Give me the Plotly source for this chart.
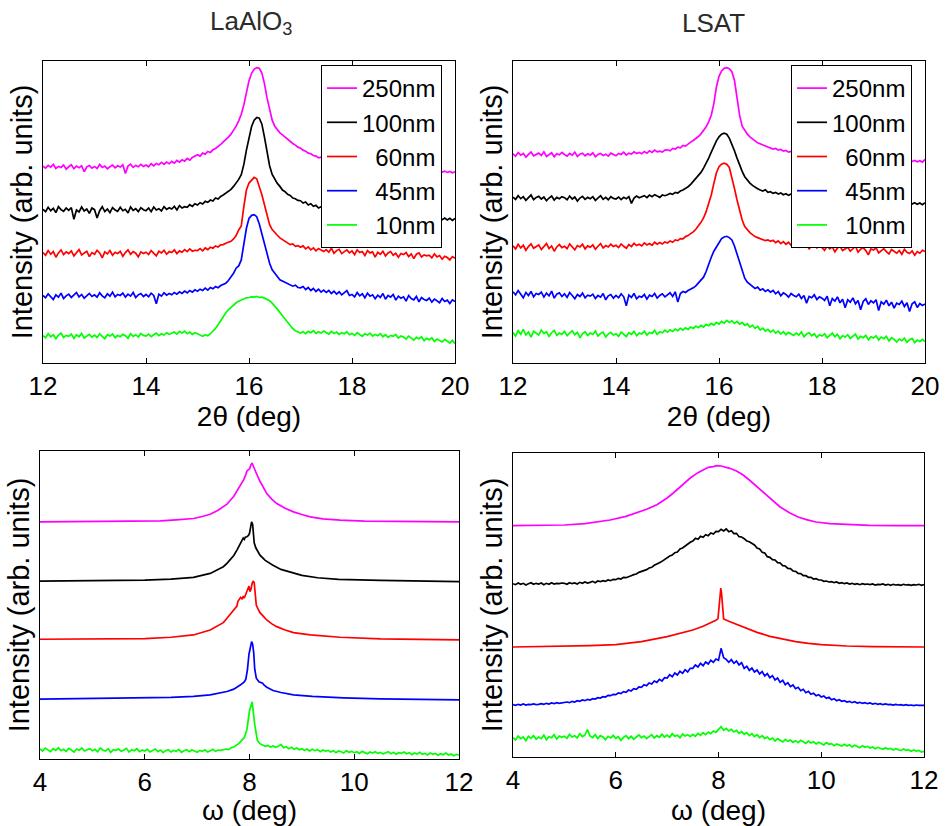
import plotly.graph_objects as go

W, H = 948, 826

# ---------------- data ----------------
# 2theta scan grid (deg) and omega scan grid (deg)
TT = [round(12 + 0.05 * i, 2) for i in range(161)]
OM = [round(4 + 0.05 * i, 2) for i in range(161)]

LABELS = ["250nm", "100nm", "\u00a0\u00a060nm", "\u00a0\u00a045nm", "\u00a0\u00a010nm"]
COLORS = ["#ff00ff", "#000000", "#ff0000", "#0000ff", "#00ff00"]

# ----- LaAlO3, 2theta scans (stacked, arb. units) -----
TL_250 = [592, 586, 594, 589, 597, 585, 591, 588, 595, 583,
          590, 596, 584, 592, 587, 593, 575, 590, 594, 586,
          591, 585, 597, 588, 592, 584, 590, 595, 587, 593,
          589, 596, 570, 592, 598, 588, 594, 590, 597, 591,
          595, 590, 599, 593, 600, 596, 603, 597, 604, 599,
          606, 601, 609, 604, 611, 607, 615, 610, 618, 622,
          626, 622, 631, 628, 636, 633, 641, 645, 650, 657,
          665, 671, 679, 688, 699, 712, 728, 748, 776, 814,
          849, 871, 883, 888, 886, 872, 840, 797, 759, 730,
          712, 701, 692, 686, 679, 673, 666, 660, 655, 649,
          646, 640, 637, 631, 629, 624, 622, 617, 619, 614,
          612, 609, 611, 606, 608, 603, 605, 601, 603, 599,
          600, 597, 599, 595, 597, 593, 596, 592, 594, 590,
          592, 589, 591, 587, 590, 586, 588, 584, 587, 583,
          585, 582, 584, 580, 583, 579, 582, 578, 581, 577,
          580, 576, 579, 575, 578, 574, 577, 573, 576, 572, 575]
TL_100 = [462, 455, 468, 458, 465, 452, 470, 461, 456, 466,
          459, 467, 432, 460, 454, 469, 457, 463, 450, 466,
          461, 436, 458, 470, 455, 463, 452, 467, 460, 456,
          468, 458, 462, 451, 469, 459, 464, 455, 467, 461,
          458, 466, 455, 469, 460, 464, 457, 470, 462, 467,
          463, 471, 460, 473, 466, 470, 468, 476, 471, 479,
          475, 482, 478, 486, 483, 490, 487, 496, 493, 501,
          505, 510, 516, 522, 531, 540, 552, 566, 597, 640,
          680, 711, 730, 738, 736, 718, 679, 630, 593, 567,
          551, 540, 531, 520, 515, 507, 504, 496, 494, 489,
          488, 481, 484, 475, 479, 471, 474, 466, 470, 463,
          466, 460, 463, 457, 461, 455, 458, 452, 456, 450,
          455, 449, 453, 447, 452, 446, 450, 444, 449, 443,
          448, 442, 447, 441, 446, 440, 445, 439, 444, 438,
          445, 439, 443, 437, 442, 436, 441, 435, 440, 434,
          439, 433, 438, 432, 437, 431, 436, 430, 435, 429, 435]
TL_60 = [332, 324, 338, 327, 335, 318, 331, 340, 326, 334,
         329, 337, 322, 333, 341, 325, 330, 336, 320, 332,
         327, 339, 331, 316, 334, 328, 338, 324, 333, 329,
         336, 321, 332, 340, 327, 335, 330, 319, 334, 329,
         333, 326, 338, 330, 322, 336, 331, 339, 327, 335,
         332, 340, 329, 337, 333, 341, 335, 343, 336, 339,
         338, 344, 337, 346, 341, 348, 345, 352, 349, 355,
         356, 360, 363, 366, 373, 383, 400, 412, 470, 520,
         541, 551, 558, 554, 531, 506, 476, 446, 416, 401,
         391, 384, 376, 371, 366, 361, 356, 358, 351, 353,
         348, 352, 343, 349, 340, 346, 337, 344, 339, 335,
         341, 333, 345, 330, 338, 342, 329, 336, 340, 331,
         337, 326, 340, 332, 335, 323, 338, 331, 334, 318,
         333, 327, 336, 322, 331, 335, 324, 330, 318, 329,
         326, 332, 320, 328, 314, 327, 331, 319, 325, 322,
         324, 316, 328, 319, 323, 312, 321, 317, 310, 320, 315]
TL_45 = [203, 196, 208, 199, 191, 205, 198, 210, 194, 202,
         207, 197, 204, 212, 199, 206, 195, 203, 209, 200,
         205, 198, 211, 202, 196, 208, 201, 213, 199, 206,
         203, 210, 198, 207, 201, 212, 197, 205, 209, 200,
         206, 199, 210, 203, 178, 207, 201, 211, 204, 209,
         205, 212, 207, 214, 209, 216, 211, 218, 213, 220,
         216, 222, 218, 225, 219, 227, 223, 230, 226, 233,
         236, 240, 248, 258, 270, 285, 292, 310, 356, 405,
         435, 444, 446, 440, 418, 388, 352, 326, 300, 280,
         268, 260, 250, 246, 242, 239, 236, 231, 234, 227,
         226, 230, 221, 227, 218, 224, 215, 222, 213, 219,
         212, 218, 209, 216, 207, 214, 205, 211, 218, 203,
         206, 199, 212, 202, 208, 196, 210, 201, 205, 193,
         204, 197, 209, 192, 203, 198, 206, 189, 201, 195,
         199, 186, 203, 194, 190, 200, 184, 197, 191, 188,
         195, 183, 192, 187, 181, 194, 185, 189, 179, 190, 185]
TL_10 = [82, 76, 88, 79, 85, 73, 84, 90, 77, 83,
         80, 87, 74, 85, 79, 89, 75, 82, 86, 78,
         84, 77, 88, 80, 73, 85, 81, 87, 76, 83,
         79, 86, 82, 74, 88, 80, 85, 78, 89, 83,
         81, 87, 79, 85, 90, 82, 88, 84, 91, 86,
         89, 93, 87, 95, 90, 96, 88, 93, 86, 91,
         88, 84, 80, 85, 82, 88, 95, 104, 115, 128,
         141, 151, 160, 168, 176, 181, 186, 190, 194, 196,
         197, 199, 198, 200, 197, 198, 195, 192, 187, 180,
         172, 162, 152, 142, 131, 120, 110, 103, 97, 93,
         90, 94, 88, 95, 91, 97, 89, 94, 90, 96,
         92, 87, 95, 89, 93, 86, 91, 88, 94, 85,
         89, 83, 91, 86, 80, 88, 84, 90, 81, 86,
         82, 88, 79, 85, 77, 83, 80, 86, 75, 81,
         78, 72, 81, 75, 69, 77, 73, 79, 67, 74,
         70, 76, 65, 72, 68, 63, 71, 66, 60, 68, 58]

# ----- LSAT, 2theta scans -----
TR_250 = [629, 622, 633, 625, 630, 619, 627, 634, 623, 628,
          631, 624, 635, 621, 628, 632, 620, 629, 626, 633,
          627, 622, 630, 625, 634, 621, 628, 631, 623, 629,
          625, 632, 620, 627, 630, 624, 628, 622, 631, 626,
          623, 630, 627, 634, 625, 631, 628, 635, 630, 633,
          629, 636, 631, 638, 633, 640, 635, 637, 634, 640,
          641, 638, 645, 643, 649, 647, 654, 652, 659, 664,
          669, 674, 681, 689, 699, 710, 725, 745, 780, 830,
          862, 878, 886, 888, 885, 876, 850, 798, 745, 712,
          698, 688, 680, 673, 668, 662, 659, 655, 652, 648,
          646, 643, 645, 640, 642, 637, 639, 634, 636, 632,
          633, 629, 631, 627, 629, 625, 627, 623, 625, 621,
          623, 619, 622, 618, 621, 617, 620, 616, 619, 615,
          618, 614, 617, 613, 616, 612, 615, 611, 614, 610,
          613, 609, 612, 608, 611, 607, 610, 606, 609, 605,
          612, 608, 611, 607, 610, 606, 609, 605, 608, 604, 612]
TR_100 = [499, 492, 503, 494, 500, 489, 497, 505, 491, 498,
          501, 493, 499, 488, 496, 502, 490, 498, 494, 500,
          497, 491, 502, 493, 499, 487, 496, 501, 492, 498,
          494, 500, 489, 497, 503, 492, 498, 491, 500, 495,
          493, 499, 491, 498, 494, 500, 480, 496, 502, 497,
          499, 503, 497, 505, 500, 506, 502, 498, 505, 503,
          506, 510, 507, 513, 511, 517, 520, 524, 530, 537,
          546, 554, 563, 573, 586, 600, 616, 634, 652, 668,
          680, 688, 691, 688, 676, 658, 638, 616, 595, 576,
          560, 550, 541, 534, 528, 524, 520, 517, 521, 513,
          515, 510, 513, 508, 511, 506, 509, 504, 508, 503,
          506, 501, 505, 500, 504, 499, 503, 498, 502, 497,
          500, 495, 499, 494, 498, 493, 497, 492, 496, 491,
          495, 490, 494, 489, 493, 488, 492, 487, 491, 486,
          490, 485, 489, 484, 488, 483, 487, 482, 486, 481,
          485, 480, 484, 479, 483, 478, 482, 477, 481, 476, 482]
TR_60 = [352, 343, 357, 346, 354, 339, 350, 358, 345, 351,
         355, 341, 350, 359, 344, 352, 336, 349, 356, 347,
         351, 344, 358, 348, 340, 353, 349, 357, 343, 352,
         348, 355, 342, 351, 359, 346, 353, 349, 357, 350,
         354, 347, 358, 351, 345, 356, 350, 360, 353, 357,
         352, 361, 355, 359, 354, 363, 357, 362, 358, 364,
         361, 367, 363, 370, 368, 374, 373, 380, 383, 389,
         394, 402, 411, 423, 436, 455, 480, 505, 540, 572,
         590, 598, 601, 598, 588, 560, 525, 490, 455, 430,
         410, 400, 392, 386, 380, 377, 374, 371, 368, 370,
         366, 369, 362, 367, 359, 365, 357, 363, 354, 361,
         355, 348, 359, 350, 356, 343, 352, 358, 346, 351,
         347, 339, 352, 343, 349, 334, 346, 351, 338, 344,
         348, 336, 345, 351, 333, 342, 347, 338, 325, 343,
         340, 346, 331, 339, 344, 335, 328, 341, 336, 330,
         338, 327, 342, 333, 329, 337, 324, 335, 330, 339, 335]
TR_45 = [214, 205, 218, 208, 196, 212, 203, 215, 199, 209,
         206, 213, 198, 210, 202, 216, 195, 207, 211, 200,
         208, 197, 212, 203, 193, 206, 200, 210, 196, 204,
         201, 207, 194, 203, 198, 209, 190, 202, 206, 195,
         203, 196, 208, 199, 172, 204, 197, 209, 193, 201,
         198, 206, 192, 204, 200, 209, 195, 203, 208, 199,
         205, 211, 200, 214, 183, 209, 215, 212, 218, 221,
         226, 232, 240, 248, 258, 275, 298, 318, 336, 350,
         364, 374, 379, 381, 377, 370, 352, 328, 300, 276,
         255, 243, 236, 230, 224, 228, 219, 223, 215, 220,
         213, 218, 208, 215, 202, 211, 206, 198, 209, 203,
         199, 207, 194, 203, 180, 200, 196, 205, 191, 199,
         195, 188, 201, 172, 194, 186, 199, 181, 192, 166,
         190, 183, 196, 178, 188, 160, 185, 193, 176, 187,
         181, 190, 158, 184, 177, 189, 172, 183, 165, 180,
         176, 186, 170, 181, 155, 178, 184, 167, 179, 173, 177]
TR_10 = [92, 81, 97, 86, 101, 84, 93, 78, 95, 88,
         84, 99, 89, 94, 80, 91, 98, 83, 90, 86,
         95, 82, 89, 97, 85, 92, 76, 88, 94, 83,
         90, 86, 96, 81, 89, 93, 78, 87, 92, 84,
         88, 80, 93, 85, 79, 91, 86, 95, 82, 90,
         87, 96, 84, 92, 89, 98, 86, 94, 91, 99,
         93, 100, 95, 102, 97, 104, 99, 106, 101, 108,
         104, 111, 106, 113, 108, 116, 112, 119, 114, 122,
         117, 125, 120, 128, 122, 127, 119, 125, 117, 122,
         113, 118, 108, 114, 104, 110, 99, 105, 96, 101,
         93, 99, 90, 96, 87, 94, 85, 92, 88, 83,
         90, 84, 93, 79, 87, 91, 82, 88, 77, 85,
         81, 88, 76, 84, 90, 79, 86, 73, 82, 78,
         85, 74, 81, 87, 72, 80, 76, 83, 70, 79,
         75, 82, 69, 78, 73, 80, 66, 76, 71, 63,
         72, 67, 75, 62, 70, 74, 61, 69, 65, 71, 64]

# ----- LaAlO3, omega scans -----
BL_250_X = [4.0, 5.0, 6.0, 6.3, 6.6, 6.93, 7.1, 7.25, 7.4, 7.57, 7.7, 7.76, 7.83, 7.89, 7.93, 7.95,
            7.98, 8.0, 8.03, 8.05, 8.08, 8.11, 8.15, 8.2, 8.27, 8.33, 8.42, 8.52, 8.68, 8.84, 9.0,
            9.16, 9.4, 9.73, 10.2, 11.0, 12.0]
BL_250_Y = [713, 714, 715, 716, 719, 723, 729, 736, 748, 766, 790, 805, 822, 840, 855, 865,
            870, 872, 885, 890, 878, 865, 852, 835, 815, 798, 782, 768, 754, 743, 735,
            728, 722, 718, 715, 714, 713]
BL_100_X = [4.0, 5.0, 6.0, 6.5, 6.93, 7.25, 7.5, 7.57, 7.7, 7.76, 7.82, 7.86, 7.88, 7.9, 7.92, 7.95,
            7.98, 8.0, 8.02, 8.04, 8.06, 8.075, 8.09, 8.12, 8.16, 8.2, 8.3, 8.44, 8.6, 8.8, 9.0,
            9.3, 9.7, 10.5, 12.0]
BL_100_Y = [535, 536, 538, 541, 546, 558, 578, 588, 612, 628, 645, 658, 664, 660, 667, 668,
            672, 678, 700, 713, 705, 680, 650, 635, 622, 613, 597, 583, 570, 560, 552,
            545, 540, 537, 533]
BL_60_X = [4.0, 5.0, 6.0, 6.5, 6.93, 7.25, 7.5, 7.57, 7.7, 7.76, 7.78, 7.8, 7.83, 7.86, 7.88, 7.9,
           7.93, 7.96, 7.99, 8.01, 8.03, 8.05, 8.07, 8.09, 8.11, 8.13, 8.16, 8.2, 8.27, 8.33, 8.42,
           8.52, 8.68, 8.84, 9.16, 9.73, 10.5, 12.0]
BL_60_Y = [360, 361, 362, 366, 373, 388, 410, 423, 450, 460, 474, 478, 486, 480, 490, 484,
           496, 508, 520, 503, 512, 528, 535, 530, 500, 462, 452, 440, 428, 418, 407,
           398, 388, 380, 373, 366, 361, 358]
BL_45_X = [4.0, 5.0, 6.0, 6.5, 6.93, 7.25, 7.57, 7.7, 7.83, 7.9, 7.93, 7.96, 7.99, 8.02, 8.04, 8.06,
           8.08, 8.1, 8.13, 8.18, 8.22, 8.25, 8.28, 8.33, 8.45, 8.6, 8.84, 9.2, 9.8, 10.5, 12.0]
BL_45_Y = [180, 182, 183, 185, 188, 193, 203, 210, 223, 232, 240, 268, 315, 340, 353, 345,
           320, 270, 243, 232, 230, 228, 222, 216, 206, 200, 193, 188, 184, 181, 178]
BL_10 = [30, 24, 33, 27, 22, 31, 26, 34, 25, 29,
         23, 32, 27, 21, 30, 26, 33, 24, 28, 31,
         25, 29, 22, 33, 27, 24, 31, 20, 28, 26,
         30, 23, 27, 32, 21, 28, 25, 31, 22, 27,
         24, 29, 21, 26, 30, 22, 27, 19, 25, 28,
         21, 26, 23, 29, 20, 25, 28, 22, 27, 24,
         20, 26, 23, 28, 21, 25, 29, 23, 27, 26,
         27, 30, 28, 34, 36, 41, 47, 56, 64, 88,
         145, 172, 104, 56, 46, 42, 38, 41, 36, 39,
         35, 38, 44, 34, 37, 31, 35, 29, 33, 28,
         31, 26, 30, 24, 29, 25, 28, 22, 27, 24,
         26, 21, 25, 19, 24, 22, 18, 25, 20, 23,
         19, 22, 17, 23, 20, 16, 21, 18, 22, 17,
         20, 15, 19, 22, 16, 20, 14, 19, 17, 21,
         16, 19, 13, 18, 15, 20, 14, 17, 12, 18,
         14, 17, 11, 16, 13, 18, 12, 15, 10, 14, 12]

# ----- LSAT, omega scans -----
BR_250_X = [4.0, 4.5, 5.0, 5.4, 5.89, 6.2, 6.41, 6.6, 6.8, 7.0, 7.12, 7.3, 7.45, 7.6, 7.7, 7.8, 7.9,
            7.96, 8.05, 8.15, 8.22, 8.35, 8.48, 8.6, 8.74, 8.9, 9.06, 9.2, 9.39, 9.55, 9.71, 9.9,
            10.17, 10.5, 10.94, 11.5, 12.0]
BR_250_Y = [694, 694, 696, 700, 711, 722, 732, 743, 757, 777, 792, 815, 837, 853, 862, 869, 871,
            874, 873, 870, 866, 858, 846, 831, 812, 790, 767, 750, 732, 720, 712, 705,
            700, 697, 695, 694, 694]
BR_100 = [520, 517, 522, 518, 521, 516, 520, 523, 518, 521,
          519, 522, 517, 521, 518, 523, 519, 521, 520, 522,
          521, 518, 523, 520, 522, 519, 524, 521, 525, 522,
          524, 527, 523, 528, 526, 529, 527, 531, 529, 533,
          532, 536, 534, 539, 538, 542, 544, 547, 549, 554,
          556, 559, 562, 567, 569, 575, 578, 583, 587, 593,
          598, 603, 606, 613, 615, 624, 627, 633, 637, 644,
          648, 656, 653, 662, 659, 667, 664, 672, 669, 677,
          676, 683, 678, 684, 676, 679, 670, 671, 661, 660,
          655, 648, 646, 640, 636, 627, 624, 614, 612, 601,
          599, 592, 591, 583, 582, 574, 573, 566, 565, 558,
          557, 551, 550, 544, 544, 539, 539, 534, 535, 531,
          531, 527, 528, 525, 526, 523, 525, 521, 523, 520,
          522, 519, 521, 518, 520, 517, 520, 518, 519, 517,
          519, 516, 518, 517, 519, 516, 518, 515, 518, 516,
          517, 515, 518, 516, 517, 515, 517, 516, 518, 515, 517]
BR_60_X = [4.0, 4.5, 5.0, 5.5, 6.0, 6.5, 7.0, 7.25, 7.5, 7.7, 7.85, 7.95, 7.99, 8.01, 8.03, 8.045,
           8.06, 8.08, 8.1, 8.2, 8.35, 8.5, 8.75, 9.0, 9.25, 9.5, 9.75, 10.0, 10.5, 11.0, 12.0]
BR_60_Y = [330, 331, 332, 334, 337, 346, 361, 370, 381, 392, 402, 410, 415, 450, 500, 507,
           490, 440, 414, 407, 398, 388, 374, 362, 353, 346, 341, 337, 333, 331, 330]
BR_45 = [157, 155, 158, 156, 159, 156, 158, 157, 159, 157,
         158, 160, 158, 161, 159, 162, 160, 163, 161, 162,
         162, 165, 163, 167, 165, 169, 167, 171, 169, 173,
         171, 175, 174, 178, 177, 181, 180, 185, 184, 188,
         187, 192, 190, 196, 194, 201, 198, 205, 203, 210,
         209, 217, 214, 222, 219, 228, 224, 233, 228, 238,
         237, 247, 241, 252, 246, 257, 251, 262, 255, 266,
         266, 276, 270, 281, 274, 285, 279, 290, 284, 294,
         290, 326, 298, 293, 284, 292, 281, 288, 276, 283,
         266, 272, 260, 267, 255, 261, 249, 256, 243, 250,
         238, 244, 231, 237, 224, 230, 217, 223, 211, 216,
         205, 209, 199, 203, 193, 197, 188, 191, 184, 187,
         180, 183, 176, 179, 172, 175, 169, 172, 167, 169,
         165, 167, 163, 166, 162, 164, 161, 163, 160, 162,
         159, 161, 158, 160, 157, 159, 157, 158, 156, 158,
         156, 157, 155, 157, 155, 156, 154, 156, 155, 156, 155]
BR_10 = [58, 51, 63, 55, 60, 49, 62, 56, 64, 53,
         60, 55, 66, 52, 61, 58, 67, 54, 63, 59,
         62, 56, 68, 60, 64, 57, 70, 61, 66, 82,
         63, 58, 67, 55, 64, 60, 52, 62, 57, 65,
         56, 61, 50, 59, 64, 55, 62, 53, 60, 66,
         58, 63, 55, 61, 67, 57, 64, 59, 68, 60,
         66, 59, 70, 62, 65, 58, 69, 63, 67, 61,
         68, 62, 71, 65, 73, 67, 75, 70, 78, 74,
         83, 91, 80, 86, 78, 83, 75, 80, 71, 76,
         68, 73, 64, 70, 61, 67, 58, 64, 55, 60,
         52, 57, 48, 55, 50, 45, 53, 47, 51, 44,
         49, 43, 50, 45, 41, 48, 42, 46, 39, 44,
         41, 36, 43, 38, 40, 34, 39, 36, 33, 38,
         33, 37, 30, 35, 31, 28, 34, 29, 32, 27,
         30, 25, 29, 27, 23, 28, 24, 26, 21, 25,
         23, 19, 24, 20, 22, 17, 21, 18, 20, 15, 17]

for arr in (TL_250, TL_100, TL_60, TL_45, TL_10, TR_250, TR_100, TR_60, TR_45, TR_10,
            BL_10, BR_100, BR_45, BR_10):
    assert len(arr) == 161, len(arr)

# ---------------- figure ----------------
FONT = "Liberation Sans, Arial, Helvetica, sans-serif"

panels = [
    # (xaxis id, yaxis id, curves [(x, y)], legend id or None)
    ("x", "y", [(TT, TL_250), (TT, TL_100), (TT, TL_60), (TT, TL_45), (TT, TL_10)], "legend"),
    ("x2", "y2", [(TT, TR_250), (TT, TR_100), (TT, TR_60), (TT, TR_45), (TT, TR_10)], "legend2"),
    ("x3", "y3", [(BL_250_X, BL_250_Y), (BL_100_X, BL_100_Y), (BL_60_X, BL_60_Y),
                  (BL_45_X, BL_45_Y), (OM, BL_10)], None),
    ("x4", "y4", [(BR_250_X, BR_250_Y), (OM, BR_100), (BR_60_X, BR_60_Y),
                  (OM, BR_45), (OM, BR_10)], None),
]

fig = go.Figure()
for xa, ya, curves, leg in panels:
    for k, (xs, ys) in enumerate(curves):
        fig.add_trace(go.Scatter(
            x=xs, y=ys, mode="lines", name=LABELS[k],
            line=dict(color=COLORS[k], width=1.7),
            xaxis=xa, yaxis=ya,
            showlegend=leg is not None,
            legend=leg if leg else "legend",
            hoverinfo="skip",
        ))

# plot-area boxes in pixels (left, right, top, bottom)
BOXES = [(43, 455, 61, 363), (513, 925, 61, 363), (40, 459, 451, 759), (513, 924, 453, 757)]
XRANGES = [[12, 20], [12, 20], [4, 12], [4, 12]]
YRANGES = [[0, 908], [0, 908], [0, 926], [0, 912]]
XTICKS = [[12, 14, 16, 18, 20], [12, 14, 16, 18, 20], [4, 6, 8, 10, 12], [4, 6, 8, 10, 12]]
XTITLES = ["2\u03b8 (deg)", "2\u03b8 (deg)", "\u03c9 (deg)", "\u03c9 (deg)"]

layout = dict(
    width=W, height=H, autosize=False,
    margin=dict(l=0, r=0, t=0, b=0),
    paper_bgcolor="white", plot_bgcolor="white",
    font=dict(family=FONT, color="black", size=26),
    showlegend=True,
)
for i, (l, r, t, b) in enumerate(BOXES):
    sfx = "" if i == 0 else str(i + 1)
    layout["xaxis" + sfx] = dict(
        domain=[l / W, r / W], range=XRANGES[i], anchor="y" + sfx,
        tickvals=XTICKS[i], ticks="inside", ticklen=5, tickwidth=1, tickcolor="black",
        showline=True, linecolor="black", linewidth=1, mirror="ticks",
        showgrid=False, zeroline=False, automargin=False,
        tickfont=dict(family=FONT, size=26, color="black"),
        title=dict(text=XTITLES[i], font=dict(family=FONT, size=28, color="black"), standoff=2),
    )
    layout["yaxis" + sfx] = dict(
        domain=[1 - b / H, 1 - t / H], range=YRANGES[i], anchor="x" + sfx,
        showticklabels=False, ticks="", showline=True, linecolor="black", linewidth=1,
        mirror=True, showgrid=False, zeroline=False, automargin=False,
        title=dict(text="Intensity (arb. units)", font=dict(family=FONT, size=29, color="black"),
                   standoff=0),
    )

legend_common = dict(
    xanchor="left", yanchor="top", bgcolor="white", bordercolor="black", borderwidth=1,
    font=dict(family=FONT, size=24, color="black"), itemwidth=30, tracegroupgap=0,
)
layout["legend"] = dict(x=321 / W, y=1 - 65 / H, **legend_common)
layout["legend2"] = dict(x=791 / W, y=1 - 65 / H, **legend_common)

layout["annotations"] = [
    dict(text="LaAlO<sub>3</sub>", x=251 / W, y=1 - 22 / H, xref="paper", yref="paper",
         xanchor="center", yanchor="middle",
         showarrow=False, font=dict(family=FONT, size=26, color="#2b2b2b")),
    dict(text="LSAT", x=713 / W, y=1 - 23 / H, xref="paper", yref="paper",
         xanchor="center", yanchor="middle",
         showarrow=False, font=dict(family=FONT, size=26, color="#2b2b2b")),
]

fig.update_layout(**layout)
fig.write_html("out.html")
